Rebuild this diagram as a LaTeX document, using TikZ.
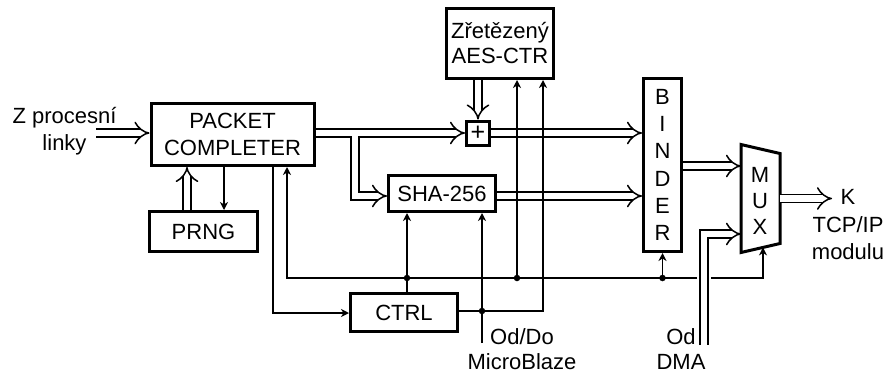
\documentclass[tikz,border=0pt]{standalone}
\usepackage{fontspec}
\setmainfont{Liberation Sans}
\usetikzlibrary{arrows.meta}
\newcommand\dfont{\fontsize{22}{27}\selectfont}
\begin{document}
\begin{tikzpicture}[x=1pt,y=-1pt,
  box/.style={draw, line width=3pt, inner sep=0pt, font=\dfont, align=center},
  lbl/.style={inner sep=0pt, font=\dfont, align=center},
  bus/.style={double, line width=1.5pt, double distance=6.5pt, -{Implies[scale=1.35]}},
  sig/.style={line width=1.6pt, -{Stealth[length=8pt,width=8pt,inset=2.5pt]}},
  dot/.style={circle, fill, inner sep=0pt, minimum size=6.5pt}]
\useasboundingbox (0,0) rectangle (884,376);

% blocks
\node[box, minimum width=163pt, minimum height=62pt] (pc) at (232.5,134.5) {PACKET\\COMPLETER};
\node[box, minimum width=108pt, minimum height=40pt] (prng) at (203.5,231.5) {PRNG};
\node[box, minimum width=107pt, minimum height=70pt, font=\fontsize{22}{25}\selectfont] (aes) at (500,43.5) {Zřetězený\\AES-CTR};
\node[box, minimum width=23pt, minimum height=24pt, font=\fontsize{25}{27}\selectfont] (xor) at (478,133) {+};
\node[box, minimum width=107pt, minimum height=36pt] (sha) at (442,193.5) {SHA-256};
\node[box, minimum width=107pt, minimum height=38pt] (ctrl) at (404,312.5) {CTRL};
\node[box, minimum width=38pt, minimum height=173pt, font=\fontsize{22}{27.2}\selectfont] (binder) at (662.5,165) {B\\I\\N\\D\\E\\R};
\draw[line width=3pt, line join=miter] (741,144.5) -- (780,153.5) -- (780,243.5) -- (741,252.5) -- cycle;
\node[lbl, font=\fontsize{22}{26}\selectfont] (mux) at (760,200.5) {M\\U\\X};

% texts
\node[lbl] (zin) at (64.5,131) {Z procesní\\linky};
\node[lbl, font=\fontsize{22}{27.5}\selectfont] (tcp) at (848,225) {K\\TCP/IP\\modulu};
\node[lbl, font=\fontsize{22}{25}\selectfont] (mbz) at (522,349.5) {Od/Do\\MicroBlaze};
\node[lbl, font=\fontsize{22}{25}\selectfont] (dmat) at (681,349.5) {Od\\DMA};

% coordinates
\coordinate (in) at (96,133);
\coordinate (br) at (355,136.2);
\coordinate (muxin1) at (741,166);
\coordinate (muxin2) at (741,234);
\coordinate (muxout) at (780,198.5);
\coordinate (kout) at (832,198.5);
\coordinate (dma) at (704,345);
\coordinate (gapL) at (697,278);
\coordinate (gapR) at (711,278);
\coordinate (muxb) at (763,247.4);
\coordinate (mb) at (482,343);

% buses
\draw[bus] (in) -- (pc.west |- in);
\draw[bus] (pc.east |- xor.west) -- (xor.west);
\draw[bus] (br) -- (355,196) -- (sha.west |- 0,196);
\draw[bus] (xor.east) -- (binder.west |- xor.east);
\draw[bus] (sha.east |- 0,196) -- (binder.west |- 0,196);
\draw[bus] (aes.south -| xor.north) -- (xor.north);
\draw[bus] (prng.north -| 187,0) -- (pc.south -| 187,0);
\draw[bus] (binder.east |- muxin1) -- (muxin1);
\draw[bus] (muxout) -- (kout);
\draw[bus] (dma) -- (704,234) -- (muxin2);

% control signals
\draw[sig] (pc.south -| 224,0) -- (prng.north -| 224,0);
\draw[sig] (pc.south -| 273,0) -- (273,313) -- (ctrl.west |- 0,313);
\draw[sig] (gapL) -- (287,278) -- (pc.south -| 287,0);
\draw[sig] (gapR) -- (763,278) -- (muxb);
\node[dot] (d1) at (407,278) {};
\node[dot] (d2) at (517,278) {};
\node[dot] (d3) at (662.5,278) {};
\draw[sig] (d3) -- (binder.south);
\draw[sig] (d2) -- (aes.south -| d2);
\draw[sig] (ctrl.north -| d1) -- (sha.south -| d1);
\draw[sig] (ctrl.east |- 0,311) -- (543,311) -- (aes.south -| 543,0);
\node[dot] (d4) at (482,311) {};
\draw[sig] (mb) -- (sha.south -| mb);
\end{tikzpicture}
\end{document}
